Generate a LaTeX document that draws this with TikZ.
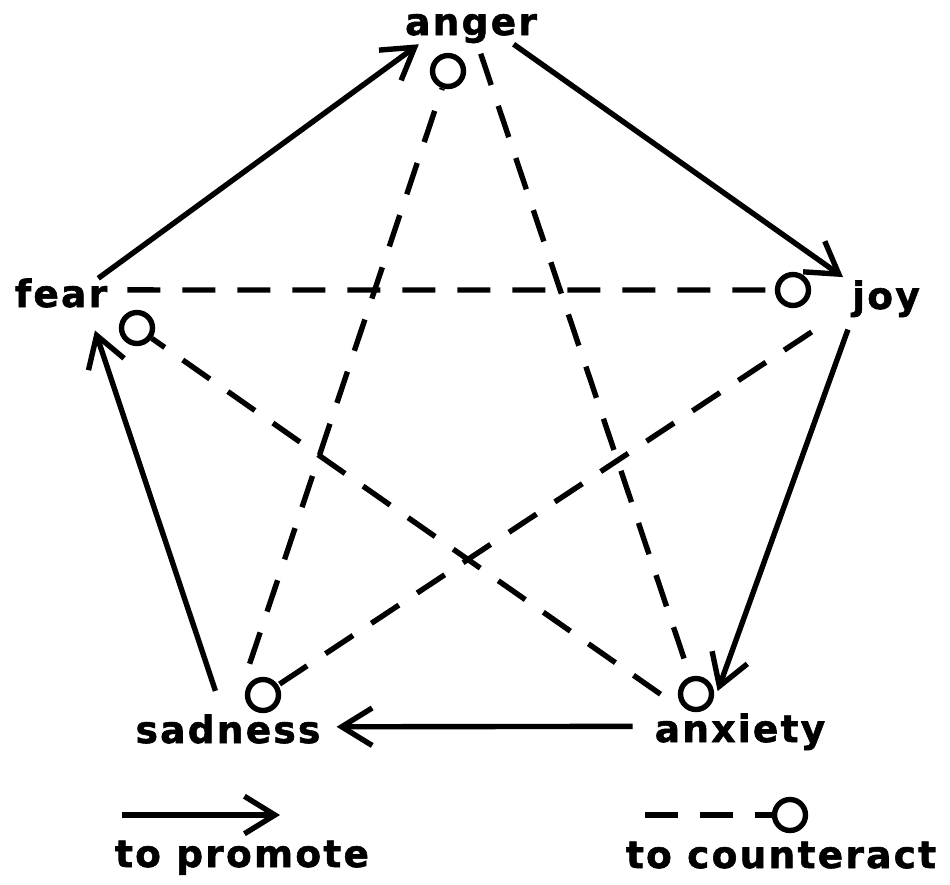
\documentclass[tikz,border=0pt]{standalone}
\usepackage{fontspec}
\newfontfamily\emofont{DejaVu Sans}[LetterSpace=6, BoldFeatures={FakeBold=1.5}]
\usetikzlibrary{arrows.meta}

\begin{document}
\begin{tikzpicture}[x=0.03cm, y=-0.03cm,
		emo/.style={font=\emofont\bfseries\fontsize{32}{32}\selectfont, inner sep=0pt, text height=24.3pt, text depth=7.7pt, anchor=base},
		port/.style={circle, draw, line width=4.6pt, minimum size=0.93cm, inner sep=0pt},
		promotes/.style={-{Straight Barb[length=26pt,width=32pt,sharp]}, line width=4.6pt},
		counters/.style={line width=4.6pt, dash pattern=on 0.99cm off 0.66cm}]
	\useasboundingbox (0,0) rectangle (950,884);
	% emotions
	\node[emo] (anger) at (471,35){anger};
	\node[emo] (joy) at (886,309){joy};
	\node[emo] (anxiety) at (740,742){anxiety};
	\node[emo] (sadness) at (228,743){sadness};
	\node[emo] (fear) at (61,307){fear};
	% counteract ports
	\node[port] (angerC) at (448,71){};
	\node[port] (joyC) at (793,290){};
	\node[port] (anxietyC) at (696,694){};
	\node[port] (sadnessC) at (263,695){};
	\node[port] (fearC) at (137,328){};
	% to promote
	\draw[promotes] (fear.27)--(anger.200);
	\draw[promotes, shorten >=0.33cm] (anger.-24)--(joy.155);
	\draw[promotes, shorten <=0.36cm, shorten >=0.71cm] (joy.south west)--(anxiety.148);
	\draw[promotes, shorten <=0.66cm, shorten >=0.48cm] (anxiety.176)--(sadness.4);
	\draw[promotes, shorten <=0.74cm, shorten >=0.45cm] (sadness.104)--(fear.-33);
	% to counteract
	\draw[counters, shorten <=1.6cm] (sadness.76)--(angerC);
	\draw[counters, shorten <=0.3cm] (anger.-71)--(anxietyC);
	\draw[counters, shorten <=0.6cm] (fear.9)--(joyC);
	\draw[counters, shorten <=1cm] (anxiety.160)--(fearC);
	\draw[counters, shorten <=1.45cm] (joy.190)--(sadnessC);
	% legend
	\coordinate (promoteA) at (122,815);
	\coordinate (promoteB) at (280,815);
	\draw[promotes] (promoteA)--(promoteB);
	\node[emo] (promote) at (242,867){to promote};
	\coordinate (counterA) at (645,815);
	\node[port] (counterC) at (790,815){};
	\draw[counters] (counterA)--(counterC);
	\node[emo] (counteract) at (781,868){to counteract};
\end{tikzpicture}
\end{document}
